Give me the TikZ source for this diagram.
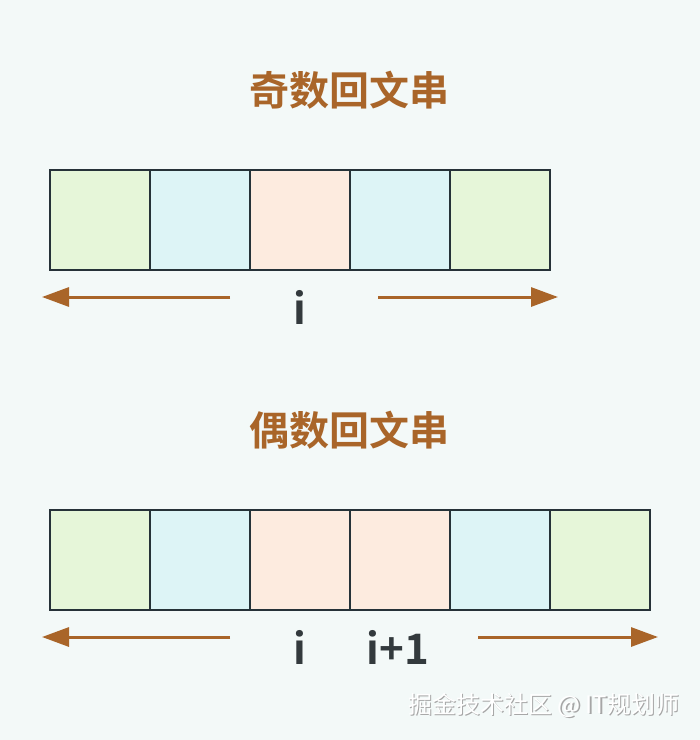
\documentclass[tikz,border=0pt]{standalone}
\usepackage{fontspec}
\newfontfamily\cjkb[Scale=1]{Noto Sans CJK SC Bold}
\newfontfamily\cjk{Noto Sans CJK SC}
\usetikzlibrary{arrows.meta}
\definecolor{bgc}{HTML}{F3F9F8}
\definecolor{gc}{HTML}{E6F6D9}
\definecolor{bc}{HTML}{DDF4F6}
\definecolor{pc}{HTML}{FDEBDF}
\definecolor{bd}{HTML}{263238}
\definecolor{tc}{HTML}{A96529}
\definecolor{lc}{HTML}{333A3D}
\tikzset{
  cell/.style={draw=bd, line width=2.6pt, minimum width=100pt, minimum height=100pt, inner sep=0pt, outer sep=0pt, anchor=north west},
  title/.style={text=tc, font=\cjkb\fontsize{40}{42}\selectfont, inner sep=0pt},
  lbl/.style={text=lc, font=\cjkb\fontsize{42}{44}\selectfont, inner sep=0pt, anchor=base},
  arr/.style={draw=tc, line width=3pt, -{Triangle[length=27pt,width=19pt]}},
  wm/.style={font=\cjk\fontsize{24}{26}\selectfont, inner sep=0pt, anchor=west},
}
\begin{document}
\begin{tikzpicture}[x=1pt,y=-1pt]
\fill[bgc] (0,0) rectangle (700,740);
\useasboundingbox (0,0) rectangle (700,740);
% titles
\node[title] (t1) at (349,90) {奇数回文串};
\node[title] (t2) at (349,430) {偶数回文串};
% odd row
\node[cell, fill=gc] (a1) at (50,170) {};
\node[cell, fill=bc] (a2) at (150,170) {};
\node[cell, fill=pc] (a3) at (250,170) {};
\node[cell, fill=bc] (a4) at (350,170) {};
\node[cell, fill=gc] (a5) at (450,170) {};
% even row
\node[cell, fill=gc] (b1) at (50,510) {};
\node[cell, fill=bc] (b2) at (150,510) {};
\node[cell, fill=pc] (b3) at (250,510) {};
\node[cell, fill=pc] (b4) at (350,510) {};
\node[cell, fill=bc] (b5) at (450,510) {};
\node[cell, fill=gc] (b6) at (550,510) {};
% arrows
\coordinate (la1) at (230,297); \coordinate (la2) at (42,297);
\coordinate (ra1) at (378,297); \coordinate (ra2) at (558,297);
\coordinate (lb1) at (230,637); \coordinate (lb2) at (42,637);
\coordinate (rb1) at (478,637); \coordinate (rb2) at (658,637);
\draw[arr] (la1) -- (la2);
\draw[arr] (ra1) -- (ra2);
\draw[arr] (lb1) -- (lb2);
\draw[arr] (rb1) -- (rb2);
% labels
\node[lbl] (i1) at (300,324) {i};
\node[lbl] (i2) at (300,664) {i};
\node[lbl] (i3) at (398,664) {i+1};
% watermark
\node[wm, text=gray!70] (w0) at (409.5,706.5) {掘金技术社区 @ IT规划师};
\node[wm, text=white] (w) at (408,705) {掘金技术社区 @ IT规划师};
\end{tikzpicture}
\end{document}
